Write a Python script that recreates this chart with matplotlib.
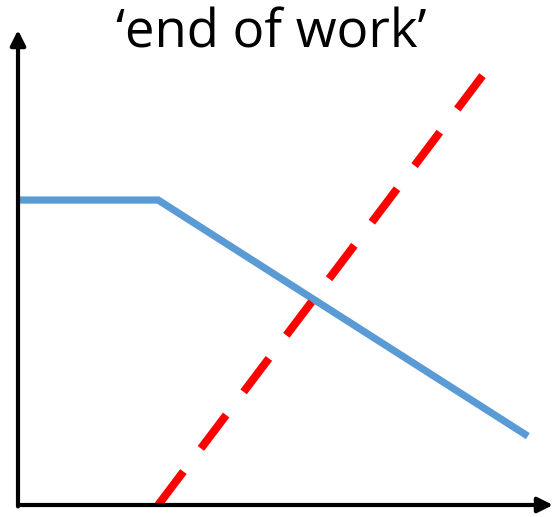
import matplotlib.pyplot as plt

# blue line: flat, then falling
blue_x = [0.0, 2.62, 9.53]
blue_y = [6.42, 6.42, 1.45]
# red dashed line: rising
red_x = [2.62, 8.69]
red_y = [0.0, 9.05]

fig = plt.figure(figsize=(5.54, 5.17), dpi=100)
ax = fig.add_axes([18 / 554, 12 / 517, 535 / 554, 475 / 517])
ax.set_xlim(0, 10)
ax.set_ylim(0, 10)
ax.axis('off')

ax.plot(blue_x, blue_y, color='#5B9BD5', linewidth=5.2, solid_capstyle='butt',
        solid_joinstyle='miter', clip_on=False)
ax.plot(red_x, red_y, color='#FF0000', linewidth=5.8, dashes=(5.2, 3.6),
        dash_capstyle='butt', clip_on=False)

# axes with arrow heads
arrow = dict(arrowstyle='-|>,head_length=0.9,head_width=0.45', color='black',
             lw=3, shrinkA=0, shrinkB=0)
ax.annotate('', xy=(1, 0), xytext=(0, 0), xycoords='axes fraction',
            arrowprops=arrow, annotation_clip=False)
ax.annotate('', xy=(0, 1), xytext=(0, -0.003), xycoords='axes fraction',
            arrowprops=arrow, annotation_clip=False)

fig.text(271 / 554, 1 - 34 / 517, '\u2018end of work\u2019', ha='center', va='center',
         fontsize=38, family=['Open Sans', 'DejaVu Sans'])

fig.savefig('out.png', dpi=100)
